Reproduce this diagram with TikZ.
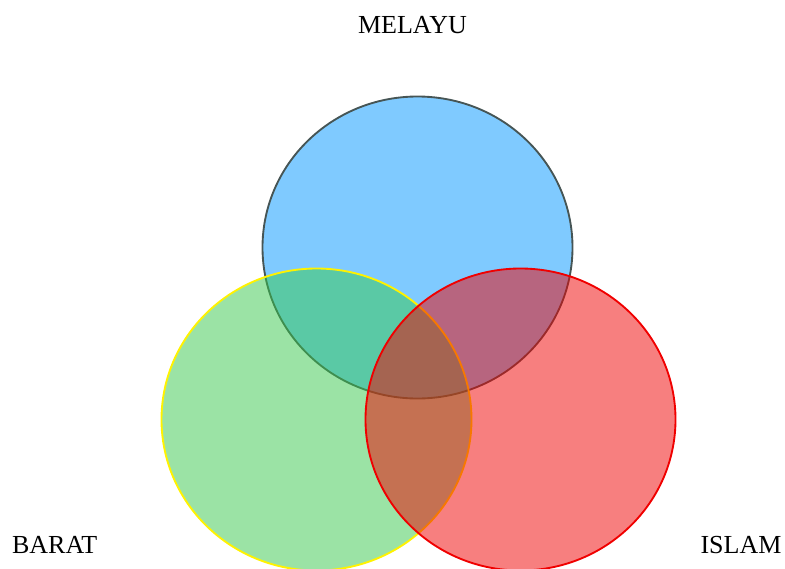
\documentclass[tikz,border=0pt]{standalone}
\usepackage{fontspec}
\setmainfont{Liberation Serif}
\usetikzlibrary{shapes.geometric}
\definecolor{melayublue}{RGB}{0,150,255}
\definecolor{melayuedge}{RGB}{70,85,85}
\definecolor{baratgreen}{RGB}{55,200,75}
\definecolor{islamred}{RGB}{240,0,0}
\tikzset{
  setcircle/.style={ellipse, minimum width=232.5pt, minimum height=226.5pt, inner sep=0pt,
                    line width=1.4pt, fill opacity=0.5},
  blueset/.style={draw=melayuedge, fill=melayublue},
  greenset/.style={draw=yellow, fill=baratgreen},
  redset/.style={draw=islamred, fill=islamred},
  setlabel/.style={font=\fontsize{19.5}{23}\selectfont, inner sep=0pt, anchor=base},
}

\begin{document}
\begin{tikzpicture}[x=0.75pt, y=-0.75pt]
\useasboundingbox (0,0) rectangle (785,568);
%Circles
\node[setcircle, blueset] (melayu) at (417.5,247.5) {};
\node[setcircle, greenset] (barat) at (316.5,419.5) {};
\node[setcircle, redset] (islam) at (520.5,419.5) {};

%Labels
\node[setlabel] (melayulabel) at (412.5,33) {MELAYU};
\node[setlabel] (baratlabel) at (54.7,553) {BARAT};
\node[setlabel] (islamlabel) at (741,553) {ISLAM};
\end{tikzpicture}
\end{document}
